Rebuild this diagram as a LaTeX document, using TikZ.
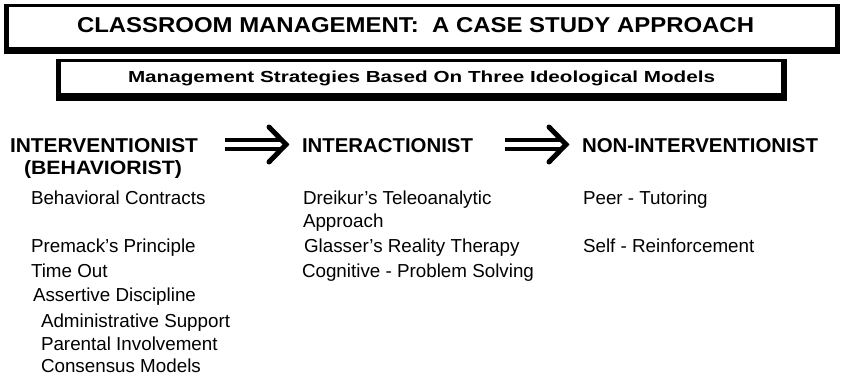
\documentclass[tikz,border=0pt]{standalone}
\usepackage{fontspec}
\usepackage{graphicx}
\setmainfont{Liberation Sans}
\begin{document}
\begin{tikzpicture}[x=1pt,y=-1pt,
  txt/.style={anchor=base west,inner sep=0pt,outer sep=0pt},
  item/.style={txt,font=\fontsize{18.8}{23}\selectfont},
  bar/.style={line width=3.6pt},
  chev/.style={line width=5pt,line cap=round,line join=miter}]
\useasboundingbox (0,0) rectangle (842,377);
% title frame with heavy lower and right edges
\fill (4,4) rectangle (840,54);
\fill[white] (9,7) rectangle (835,47);
\node[txt] (title) at (77,32.5)
  {\resizebox{677pt}{15pt}{\bfseries CLASSROOM MANAGEMENT:\ \ A CASE STUDY APPROACH}};
% subtitle frame
\fill (56,59) rectangle (787,101);
\fill[white] (61,62) rectangle (781,93);
\node[txt] (sub) at (128,83)
  {\resizebox{587pt}{11.6pt}{\bfseries Management Strategies Based On Three Ideological Models}};
% column headings
\node[txt] (h1) at (10,152.5) {\resizebox{188pt}{14pt}{\bfseries INTERVENTIONIST}};
\node[txt] (h1b) at (24,174) {\resizebox{158pt}{14pt}{\bfseries (BEHAVIORIST)}};
\node[txt] (h2) at (302,152.5) {\resizebox{171pt}{14pt}{\bfseries INTERACTIONIST}};
\node[txt] (h3) at (582,152.5) {\resizebox{236pt}{14pt}{\bfseries NON-INTERVENTIONIST}};
% double-shafted arrows between the headings
\coordinate (a1s) at (225,144.5); \coordinate (a1e) at (286,144.5);
\coordinate (a2s) at (505,144.5); \coordinate (a2e) at (566,144.5);
\foreach \s/\e in {a1s/a1e,a2s/a2e}{
  \draw[bar] ([yshift=4.5pt]\s) -- ([yshift=4.5pt,xshift=-3pt]\e);
  \draw[bar] ([yshift=-4.5pt]\s) -- ([yshift=-4.5pt,xshift=-3pt]\e);
  \draw[chev] ([shift={(-17pt,17.5pt)}]\e) -- (\e) -- ([shift={(-17pt,-17.5pt)}]\e);
}
% interventionist strategies
\node[item] (l1) at (31,204) {Behavioral Contracts};
\node[item] (l2) at (31,252) {Premack's Principle};
\node[item] (l3) at (31,277) {Time Out};
\node[item] (l4) at (33,301) {Assertive Discipline};
\node[item] (l5) at (41,327) {Administrative Support};
\node[item] (l6) at (41,350) {Parental Involvement};
\node[item] (l7) at (41,372) {Consensus Models};
% interactionist strategies
\node[item] (m1) at (303,204) {Dreikur's Teleoanalytic};
\node[item] (m1b) at (303,227) {Approach};
\node[item] (m2) at (304,252) {Glasser's Reality Therapy};
\node[item] (m3) at (302,277) {Cognitive - Problem Solving};
% non-interventionist strategies
\node[item] (r1) at (583,204) {Peer - Tutoring};
\node[item] (r2) at (583,252) {Self - Reinforcement};
\end{tikzpicture}
\end{document}
